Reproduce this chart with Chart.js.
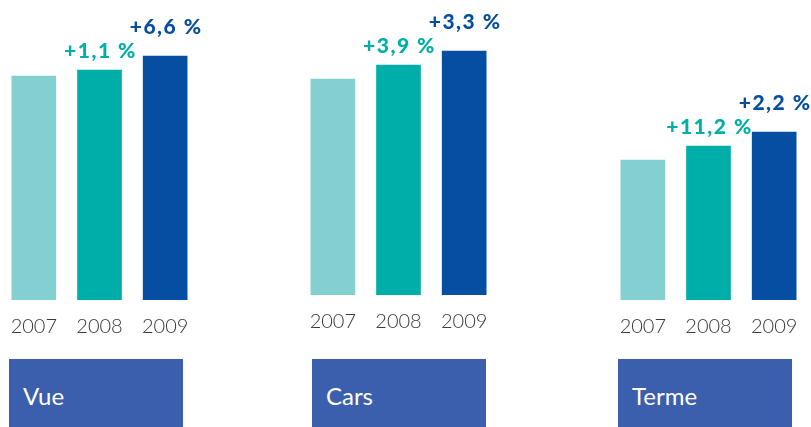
<!DOCTYPE html>
<html>
<head>
<meta charset="utf-8">
<script src="https://cdn.jsdelivr.net/npm/chart.js@4"></script>
<style>
  html, body { margin: 0; padding: 0; background: #fff; }
  body { width: 811px; height: 427px; position: relative; overflow: hidden; font-family: Lato, sans-serif; }
  .panel { position: absolute; }
  .site {
    position: absolute; top: 359px; width: 174px; height: 80px;
    background: #3b5fad; color: #fff; font-size: 24px;
    box-sizing: border-box; padding: 22px 0 0 14px;
  }
</style>
</head>
<body>
<script>
// Données
var years = ['2007', '2008', '2009'];
var sites = ['Vue', 'Cars', 'Terme'];
var vueValues = [224, 230, 244];
var carsValues = [216, 230, 244];
var termeValues = [140, 154, 168];
var vueGrowth = [null, 1.1, 6.6];
var carsGrowth = [null, 3.9, 3.3];
var termeGrowth = [null, 11.2, 2.2];

var barColors = ['#84d0d0', '#00aea9', '#054ea1'];
var growthColors = [null, '#00aea9', '#054ea1'];
var growthGap = [0, 12, 22];

// mise en page de chaque panneau
var panels = [
    { left: 1, top: 0, box: 9, values: vueValues, growth: vueGrowth },
    { left: 300, top: -5, box: 312, values: carsValues, growth: carsGrowth },
    { left: 610, top: 0, box: 618, values: termeValues, growth: termeGrowth }
];

function fmt(v) {
    return '+' + v.toFixed(1).replace('.', ',') + ' %';
}

var growthLabels = {
    id: 'growthLabels',
    afterDatasetsDraw: function (chart, args, opts) {
        var ctx = chart.ctx;
        var meta = chart.getDatasetMeta(0);
        ctx.save();
        ctx.font = '900 21px Lato';
        ctx.letterSpacing = '1.5px';
        ctx.textAlign = 'center';
        ctx.textBaseline = 'alphabetic';
        meta.data.forEach(function (bar, i) {
            var g = opts.growth[i];
            if (g == null) return;
            ctx.fillStyle = growthColors[i];
            ctx.fillText(fmt(g), bar.x + 1, bar.y - growthGap[i]);
        });
        ctx.restore();
    }
};

panels.forEach(function (p, k) {
    var wrap = document.createElement('div');
    wrap.className = 'panel';
    wrap.style.left = p.left + 'px';
    wrap.style.top = p.top + 'px';
    var canvas = document.createElement('canvas');
    canvas.width = 211;
    canvas.height = 340;
    wrap.appendChild(canvas);
    document.body.appendChild(wrap);

    var box = document.createElement('div');
    box.className = 'site';
    box.style.left = p.box + 'px';
    box.textContent = sites[k];
    document.body.appendChild(box);

    new Chart(canvas.getContext('2d'), {
        type: 'bar',
        data: {
            labels: years,
            datasets: [{
                data: p.values,
                backgroundColor: barColors,
                barThickness: 44
            }]
        },
        options: {
            responsive: false,
            animation: false,
            layout: { padding: { left: 0, right: 14, top: 0, bottom: 0 } },
            plugins: {
                legend: { display: false },
                tooltip: { enabled: false },
                growthLabels: { growth: p.growth }
            },
            scales: {
                x: {
                    grid: { display: false, drawTicks: false },
                    border: { display: false },
                    ticks: {
                        padding: 8,
                        color: '#3a3a3a',
                        font: { family: 'Lato', size: 20, weight: '300', lineHeight: 1.9 }
                    },
                    afterFit: function (axis) { axis.height = 40; }
                },
                y: { display: false, min: 0, max: 300 }
            }
        },
        plugins: [growthLabels]
    });
});
</script>
</body>
</html>
